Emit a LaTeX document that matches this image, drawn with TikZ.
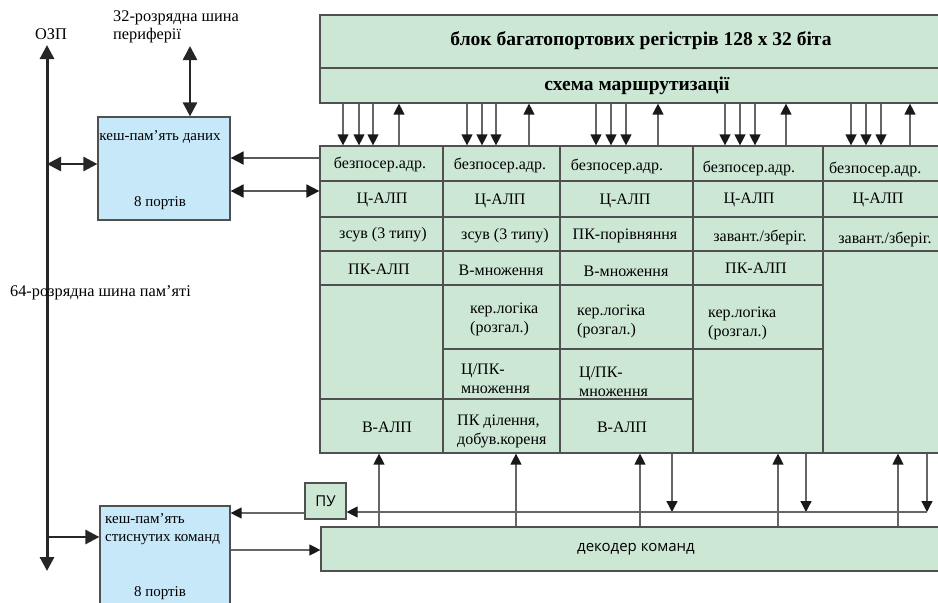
\documentclass[tikz,border=0pt]{standalone}
\usepackage{fontspec}
\setmainfont{Liberation Serif}
\newfontfamily\sansf{Open Sans}
\usetikzlibrary{arrows.meta,fit}
\definecolor{cellgreen}{RGB}{205,231,213}
\definecolor{cacheblue}{RGB}{199,232,249}
\definecolor{edgegray}{RGB}{80,80,80}
\begin{document}
\begin{tikzpicture}[x=1pt,y=-1pt,
  box/.style={draw=edgegray, line width=1.2pt, fill=cellgreen, inner sep=0pt},
  cbox/.style={draw=edgegray, line width=1.2pt, fill=cacheblue, inner sep=0pt},
  txt/.style={inner sep=0pt, font=\fontsize{16}{19}\selectfont, align=left},
  ctxt/.style={inner sep=0pt, font=\fontsize{15}{18}\selectfont, align=left},
  ltxt/.style={inner sep=0pt, font=\fontsize{16.3}{18}\selectfont, align=left},
  ttl/.style={inner sep=0pt, font=\fontsize{19.5}{22}\selectfont\bfseries},
  stxt/.style={inner sep=0pt, font=\sansf\fontsize{15}{18}\selectfont},
  sig/.style={draw=black!60, line width=1.3pt, -{Triangle[length=11pt,width=11pt,color=black!90]}},
  mid/.style={draw=black!65, line width=1.8pt, -{Triangle[length=13pt,width=13pt,color=black!90]}},
  midb/.style={draw=black!65, line width=1.8pt, {Triangle[length=13pt,width=13pt,color=black!90]}-{Triangle[length=13pt,width=13pt,color=black!90]}},
  busb/.style={draw=black!85, line width=3pt, {Triangle[length=14pt,width=14pt]}-{Triangle[length=14pt,width=14pt]}},
  busa/.style={draw=black!85, line width=2.6pt, -{Triangle[length=14pt,width=14pt]}},
  busab/.style={draw=black!85, line width=2.6pt, {Triangle[length=14pt,width=14pt]}-{Triangle[length=14pt,width=14pt]}}
]
\useasboundingbox (0,0) rectangle (938,603);
\clip (0,0) rectangle (938,603);

% register block and routing
\node[box, fit={(320,15) (960,68)}] (reg) {};
\node[box, fit={(320,68) (960,103)}] (route) {};
\node[ttl] (regt) at (641,41) {блок багатопортових регістрів 128 x 32 біта};
\node[ttl] (routet) at (637,86) {схема маршрутизації};

% column 1
\node[box, fit={(320,146) (443,181)}] (c11) {};
\node[box, fit={(320,181) (443,217)}] (c12) {};
\node[box, fit={(320,217) (443,251)}] (c13) {};
\node[box, fit={(320,251) (443,285)}] (c14) {};
\node[box, fit={(320,285) (443,399)}] (c15) {};
\node[box, fit={(320,399) (443,453)}] (c16) {};
% column 2
\node[box, fit={(443,146) (560,181)}] (c21) {};
\node[box, fit={(443,181) (560,217)}] (c22) {};
\node[box, fit={(443,217) (560,251)}] (c23) {};
\node[box, fit={(443,251) (560,285)}] (c24) {};
\node[box, fit={(443,285) (560,349)}] (c25) {};
\node[box, fit={(443,349) (560,399)}] (c26) {};
\node[box, fit={(443,399) (560,453)}] (c27) {};
% column 3
\node[box, fit={(560,146) (693,181)}] (c31) {};
\node[box, fit={(560,181) (693,217)}] (c32) {};
\node[box, fit={(560,217) (693,251)}] (c33) {};
\node[box, fit={(560,251) (693,285)}] (c34) {};
\node[box, fit={(560,285) (693,349)}] (c35) {};
\node[box, fit={(560,349) (693,399)}] (c36) {};
\node[box, fit={(560,399) (693,453)}] (c37) {};
% column 4
\node[box, fit={(693,146) (823,181)}] (c41) {};
\node[box, fit={(693,181) (823,217)}] (c42) {};
\node[box, fit={(693,217) (823,251)}] (c43) {};
\node[box, fit={(693,251) (823,285)}] (c44) {};
\node[box, fit={(693,285) (823,349)}] (c45) {};
\node[box, fit={(693,349) (823,453)}] (c46) {};
% column 5
\node[box, fit={(823,146) (960,181)}] (c51) {};
\node[box, fit={(823,181) (960,217)}] (c52) {};
\node[box, fit={(823,217) (960,251)}] (c53) {};
\node[box, fit={(823,251) (960,453)}] (c54) {};

% cell texts column 1
\node[txt] (t11) at (380,164) {безпосер.адр.};
\node[txt] (t12) at (382,200) {Ц-АЛП};
\node[txt] (t13) at (383,235) {зсув (3 типу)};
\node[txt] (t14) at (379,269) {ПК-АЛП};
\node[txt] (t16) at (387,427) {В-АЛП};
% column 2
\node[txt] (t21) at (500,165) {безпосер.адр.};
\node[txt] (t22) at (500,201) {Ц-АЛП};
\node[txt] (t23) at (505,236) {зсув (3 типу)};
\node[txt] (t24) at (501,270) {В-множення};
\node[txt, anchor=west] (t25) at (470,319) {кер.логіка\\(розгал.)};
\node[txt, anchor=west] (t26) at (461,379) {Ц/ПК-\\множення};
\node[txt, anchor=west] (t27) at (457,431) {ПК ділення,\\добув.кореня};
% column 3
\node[txt] (t31) at (617,166) {безпосер.адр.};
\node[txt] (t32) at (625,201) {Ц-АЛП};
\node[txt] (t33) at (625,236) {ПК-порівняння};
\node[txt] (t34) at (626,271) {В-множення};
\node[txt, anchor=west] (t35) at (577,321) {кер.логіка\\(розгал.)};
\node[txt, anchor=west] (t36) at (579,382) {Ц/ПК-\\множення};
\node[txt] (t37) at (622,427) {В-АЛП};
% column 4
\node[txt] (t41) at (749,168) {безпосер.адр.};
\node[txt] (t42) at (749,200) {Ц-АЛП};
\node[txt] (t43) at (760,237) {завант./зберіг.};
\node[txt] (t44) at (756,268) {ПК-АЛП};
\node[txt, anchor=west] (t45) at (708,323) {кер.логіка\\(розгал.)};
% column 5
\node[txt, anchor=west] (t51) at (829,169) {безпосер.адр.};
\node[txt] (t52) at (878,200) {Ц-АЛП};
\node[txt] (t53) at (885,239) {завант./зберіг.};

% routing <-> columns arrows
\foreach \c/\a/\b/\d/\u in {c11/343/359/373/399, c21/467/482/496/529, c31/596/611/626/658, c41/725/740/755/786, c51/851/866/881/910} {
  \draw[sig] (route.south -| \a,0) -- (\c.north -| \a,0);
  \draw[sig] (route.south -| \b,0) -- (\c.north -| \b,0);
  \draw[sig] (route.south -| \d,0) -- (\c.north -| \d,0);
  \draw[sig] (\c.north -| \u,0) -- (route.south -| \u,0);
}

% left side: bus, caches
\coordinate (bustop) at (47,45);
\coordinate (busbot) at (47,571);
\node[ltxt] (ozp) at (51,34) {ОЗП};
\draw[busb] (bustop) -- (busbot);
\node[ltxt, anchor=west] (perl) at (113,27) {32-розрядна шина\\периферії};
\node[ltxt, anchor=west] (meml) at (10,293) {64-розрядна шина пам'яті};

\node[cbox, fit={(98,117) (230,220)}] (dcache) {};
\node[ctxt] (dct1) at (160,137) {кеш-пам'ять даних};
\node[ctxt] (dct2) at (160,203) {8 портів};
\coordinate (pertop) at (190,46);
\draw[busab] (pertop) -- (dcache.north -| pertop);
\draw[busab] (bustop |- 0,164) -- (dcache.west |- 0,164);
\draw[mid] (c11.west |- 0,158) -- (dcache.east |- 0,158);
\draw[midb] (dcache.east |- 0,191) -- (c12.west |- 0,191);

\node[cbox, fit={(100,506) (230,625)}] (ccache) {};
\node[ctxt, anchor=west] (cct1) at (105,529) {кеш-пам'ять\\стиснутих команд};
\node[ctxt] (cct2) at (160,593) {8 портів};
\draw[busa] (bustop |- 0,537) -- (ccache.west |- 0,537);

% control unit and decoder
\node[box, fit={(305,483) (346,519)}] (pu) {};
\node[stxt] (put) at (pu.center) {ПУ};
\node[box, fit={(321,527) (960,571)}] (dec) {};
\node[stxt] (dect) at (636,549) {декодер команд};

\draw[sig] (pu.west |- 0,513) -- (ccache.east |- 0,513);
\draw[sig] (ccache.east |- 0,550) -- (dec.west |- 0,550);

\coordinate (pline) at (927,512);
\foreach \c/\x in {c16/379, c27/516, c37/640, c46/778, c54/898} {
  \draw[sig] (dec.north -| \x,0) -- (\c.south -| \x,0);
}
\foreach \c/\x in {c37/672, c46/806, c54/927} {
  \draw[sig] (\c.south -| \x,0) -- (pline -| \x,0);
}
\draw[sig] (pline) -- (pu.east |- pline);
\end{tikzpicture}
\end{document}
